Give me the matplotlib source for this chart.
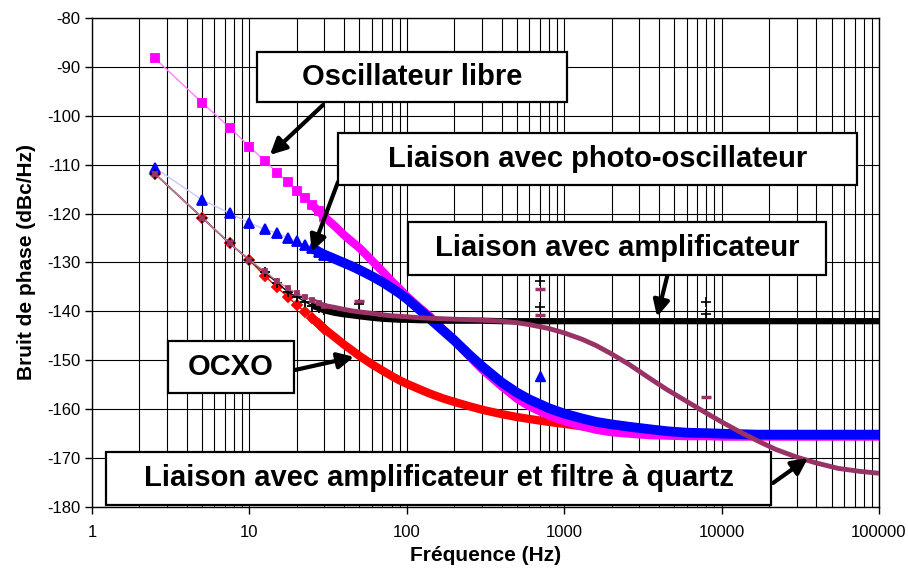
import numpy as np
import matplotlib
matplotlib.use('Agg')
import matplotlib.pyplot as plt
from matplotlib.patches import Rectangle
from matplotlib.ticker import LogLocator, NullFormatter

plt.rcParams['font.family'] = ['Liberation Sans', 'DejaVu Sans']
plt.rcParams['axes.unicode_minus'] = False

# ── data ──────────────────────────────────────────────────────────
freq = np.array([2.5, 5, 7.5, 10, 12.5, 15, 17.5, 20, 22.5, 25, 27.5,
                 30, 35, 40, 45, 50, 60, 70, 80, 90, 100,
                 120, 140, 170, 200, 250, 300, 400, 500, 600, 800, 1000,
                 1300, 1600, 2000, 2600, 3500, 4500, 6000, 8000, 10000,
                 13000, 17000, 22000, 30000, 40000, 55000, 75000, 100000])

libre = [-88.2, -97.3, -102.4, -106.3, -109.2, -111.6, -113.6, -115.3, -116.9, -118.2, -119.5,
         -120.7, -122.6, -124.4, -125.8, -127.0, -129.6, -131.8, -133.8, -135.4, -136.9,
         -139.2, -141.0, -143.7, -145.9, -149.2, -151.8, -155.3, -157.8, -159.4, -161.3, -162.4,
         -163.5, -164.2, -164.7, -165.0, -165.3, -165.4, -165.5, -165.5, -165.6,
         -165.6, -165.6, -165.6, -165.6, -165.6, -165.6, -165.6, -165.6]

photo = [-110.6, -117.2, -119.9, -121.9, -123.2, -124.0, -124.9, -125.7, -126.4, -127.1, -127.8,
         -128.4, -129.3, -130.1, -130.8, -131.5, -132.8, -134.0, -135.2, -136.3, -137.4,
         -139.6, -141.5, -143.9, -145.9, -148.9, -151.2, -154.5, -156.6, -158.0, -159.8, -160.9,
         -161.9, -162.6, -163.1, -163.6, -164.1, -164.5, -164.8, -164.9, -165.0,
         -165.1, -165.2, -165.2, -165.2, -165.2, -165.2, -165.2, -165.2]

ocxo = [-111.8, -120.8, -126.1, -129.5, -132.7, -135.1, -137.0, -138.7, -140.1, -141.4, -142.5,
        -143.6, -145.3, -146.8, -148.0, -149.1, -150.8, -152.1, -153.2, -154.1, -154.8,
        -155.9, -156.8, -157.8, -158.5, -159.4, -160.1, -161.0, -161.6, -162.0, -162.6, -163.0,
        -163.5, -163.9, -164.3, -164.6, -164.9, -165.1, -165.2, -165.3, -165.3,
        -165.4, -165.4, -165.4, -165.4, -165.4, -165.4, -165.4, -165.4]

ampli = [-111.8, -120.8, -126.1, -129.5, -132.0, -134.1, -136.0, -137.0, -138.0, -138.8, -139.3,
         -139.8, -140.3, -140.6, -140.8, -141.0, -141.3, -141.5, -141.6, -141.7, -141.7,
         -141.8, -141.8, -141.9, -141.9, -141.9, -141.9, -142.0, -142.0, -142.0, -142.0, -142.0,
         -142.0, -142.0, -142.0, -142.0, -142.0, -142.0, -142.0, -142.0, -142.0,
         -142.0, -142.0, -142.0, -142.0, -142.0, -142.0, -142.0, -142.0]

quartz = [-111.8, -120.8, -126.1, -129.5, -131.8, -133.8, -135.2, -136.3, -137.0, -137.7, -138.3,
          -138.8, -139.2, -139.6, -139.9, -140.1, -140.4, -140.7, -140.9, -141.0, -141.1,
          -141.3, -141.4, -141.5, -141.6, -141.7, -141.8, -142.0, -142.3, -142.7, -143.5, -144.4,
          -145.7, -147.0, -148.7, -150.9, -153.7, -156.0, -158.4, -160.8, -162.6,
          -164.6, -166.5, -168.2, -169.8, -171.0, -172.1, -172.7, -173.1]

# isolated spurious points (50 Hz, ~700 Hz, ~8 kHz)
spur_f_ampli = [50, 700, 700, 8000, 8000]
spur_ampli = [-138.5, -133.7, -139.0, -138.0, -140.5]
spur_f_quartz = [50, 700, 700, 8000]
spur_quartz = [-137.9, -135.5, -140.7, -157.5]
spur_f_photo = [700]
spur_photo = [-153.3]

W, H = 908, 570
fig = plt.figure(figsize=(W / 100, H / 100), dpi=100, facecolor='white')
ax = fig.add_axes([92 / W, 63 / H, 787 / W, 489 / H])
ax.set_xscale('log')
ax.set_xlim(1, 1e5)
ax.set_ylim(-180, -80)

# grid
ax.xaxis.set_minor_locator(LogLocator(base=10, subs=np.arange(2, 10)))
ax.xaxis.set_minor_formatter(NullFormatter())
ax.grid(True, which='both', axis='x', color='black', lw=0.8)
ax.grid(True, which='major', axis='y', color='black', lw=0.8)
ax.set_axisbelow(True)

# ── series ────────────────────────────────────────────────────────
low = freq <= 30
band = freq >= 25
series = [
    (ocxo,   '#FF0000', '#FF0000', 'D', 5.0, 6.0, 2),
    (libre,  '#FF00FF', '#FF80FF', 's', 6.0, 6.0, 3),
    (photo,  '#0000FF', '#C8C8FF', '^', 7.0, 7.0, 4),
    (ampli,  '#000000', '#000000', '+', 6.5, 4.5, 5),
    (quartz, '#993366', '#C08AA5', 's', 3.5, 3.5, 6),
]
for vals, col, thin, mk, ms, lw, z in series:
    v = np.array(vals)
    ax.plot(freq[band], v[band], color=col, lw=lw, solid_capstyle='butt',
            solid_joinstyle='round', zorder=z)
    ax.plot(freq[low], v[low], color=thin, lw=1, marker=mk, ms=ms,
            mfc=col, mec=col, mew=1.3, zorder=z + 0.5)

ax.plot(spur_f_ampli, spur_ampli, ls='none', marker='+', ms=7, mec='black', mew=1.2, zorder=7)
ax.plot(spur_f_quartz, spur_quartz, ls='none', marker='_', ms=7, mec='#993366', mew=2.5, zorder=7)
ax.plot(spur_f_photo, spur_photo, ls='none', marker='^', ms=7, mfc='#0000FF', mec='#0000FF', zorder=7)

# ── axes cosmetics ───────────────────────────────────────────────
ax.set_xticks([1, 10, 100, 1000, 10000, 100000])
ax.set_xticklabels(['1', '10', '100', '1000', '10000', '100000'])
ax.set_yticks(np.arange(-180, -79, 10))
ax.tick_params(axis='both', which='major', labelsize=12, length=5, width=1, color='black')
ax.tick_params(axis='x', which='minor', length=0)
ax.tick_params(axis='x', pad=8)
for sp in ax.spines.values():
    sp.set_color('black')
    sp.set_linewidth(1.0)

ax.set_xlabel('Fréquence (Hz)', fontsize=15, fontweight='bold', labelpad=4)
ax.set_ylabel('Bruit de phase (dBc/Hz)', fontsize=15, fontweight='bold', labelpad=8)

# ── annotation boxes and arrows ──────────────────────────────────
def box(x0, y0, x1, y1, txt):
    fig.patches.append(Rectangle((x0 / W, 1 - y1 / H), (x1 - x0) / W, (y1 - y0) / H,
                                 transform=fig.transFigure, fc='white', ec='black',
                                 lw=1.6, zorder=10))
    fig.text((x0 + x1) / 2 / W, 1 - (y0 + y1) / 2 / H, txt, ha='center', va='center',
             fontsize=21, fontweight='bold', zorder=11)

def arrow(f, y, px, py):
    ax.annotate('', xy=(f, y), xycoords='data', xytext=(px, H - py),
                textcoords='figure pixels', annotation_clip=False,
                arrowprops=dict(arrowstyle='-|>', color='black', lw=3,
                                mutation_scale=24, shrinkA=0, shrinkB=0),
                zorder=20)

arrow(13.5, -108.0, 323, 105)
arrow(24.9, -127.8, 338, 182)
arrow(3890, -141.1, 668, 273)
arrow(46.2, -149.3, 295, 370)
arrow(35400, -170.0, 773, 483)

box(257, 52, 567, 102, 'Oscillateur libre')
box(338, 133, 857, 185, 'Liaison avec photo-oscillateur')
box(408, 222, 826, 275, 'Liaison avec amplificateur')
box(168, 341, 294, 393, 'OCXO')
box(106, 452, 771, 505, 'Liaison avec amplificateur et filtre à quartz')

fig.savefig('out.png', dpi=100, facecolor='white')
